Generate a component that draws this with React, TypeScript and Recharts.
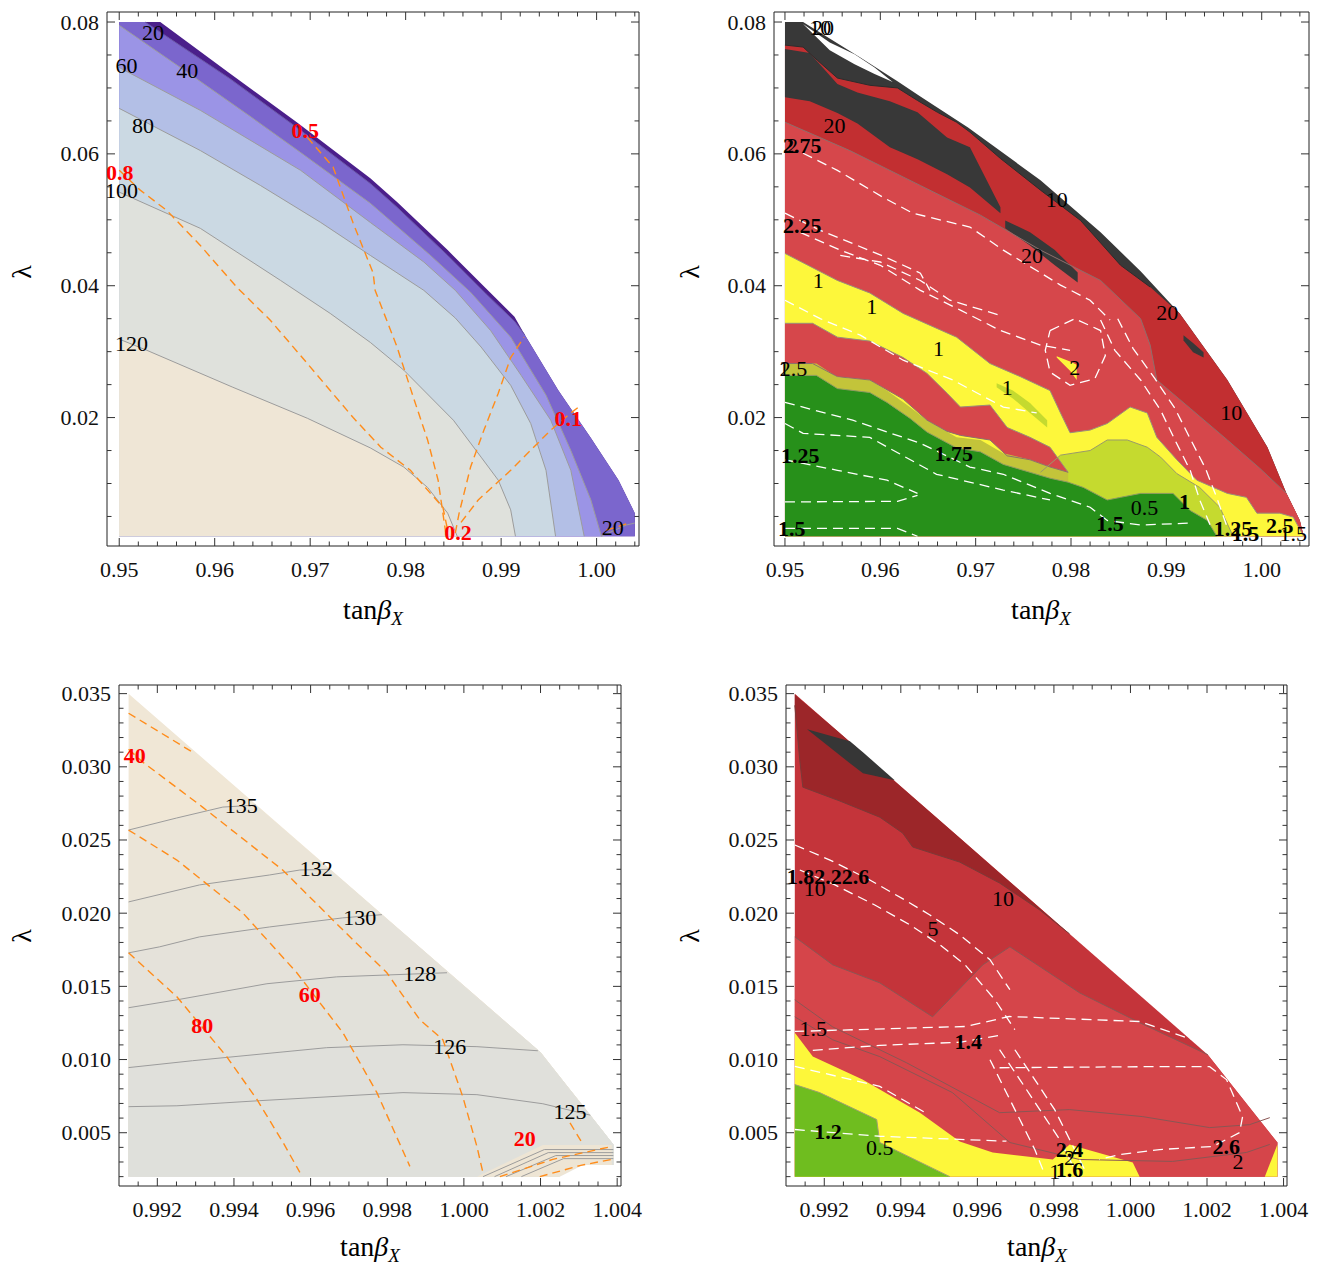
import React from "react";
import { ComposedChart, Area, Line, Scatter, XAxis, YAxis } from "recharts";

type P = [number, number];
type Txt = { x: number; y: number; t: string };

const FONT = "'Liberation Serif', 'Times New Roman', serif";
const ORANGE = "#ff8c1a";
const GREY = "#9c9c9c";

// ---------- top left panel (tanβX 0.95–1.004, λ up to 0.08)
const tlEdge: P[] = [[0.95,0.08],[0.9543,0.08],[0.9616,0.0722],[0.9686,0.0648],[0.9763,0.0563],[0.9791,0.0527],[0.9844,0.0454],[0.9884,0.0396],[0.9914,0.0353],[0.9925,0.0325],[0.996,0.0241],[0.9994,0.0169],[1.0023,0.0105],[1.004,0.0055],[1.004,0.002]];
const tlC20: P[] = [[0.9527,0.08],[0.9616,0.0714],[0.9686,0.064],[0.9763,0.0555],[0.9791,0.0519],[0.9844,0.0446],[0.9884,0.0388],[0.9914,0.0346],[0.9925,0.0325]];
const tlC40: P[] = [[0.95,0.0795],[0.9571,0.0724],[0.9637,0.0657],[0.969,0.0602],[0.9763,0.0525],[0.9826,0.0446],[0.9868,0.039],[0.991,0.0322],[0.9947,0.0234],[0.9973,0.015],[0.9994,0.0075],[1.0005,0.002]];
const tlC60: P[] = [[0.95,0.0731],[0.9585,0.0666],[0.969,0.0575],[0.9763,0.0496],[0.9819,0.0436],[0.9852,0.0393],[0.9889,0.0332],[0.9921,0.0264],[0.9952,0.0196],[0.9973,0.012],[0.9987,0.002]];
const tlC80: P[] = [[0.95,0.0669],[0.9585,0.0605],[0.9648,0.0552],[0.9711,0.0496],[0.9763,0.0446],[0.9819,0.0393],[0.9852,0.0351],[0.9879,0.0307],[0.991,0.0249],[0.9931,0.0191],[0.9947,0.012],[0.9957,0.002]];
const tlC100: P[] = [[0.95,0.0542],[0.9585,0.0487],[0.9669,0.0408],[0.9721,0.0358],[0.9763,0.0314],[0.9798,0.0272],[0.985,0.0196],[0.9879,0.014],[0.9897,0.0105],[0.991,0.006],[0.9915,0.002]];
const tlC120: P[] = [[0.95,0.0319],[0.9529,0.0302],[0.9619,0.0246],[0.9697,0.0199],[0.9763,0.0154],[0.9798,0.0125],[0.9823,0.0094],[0.9844,0.0055],[0.9854,0.002]];
const tlO08: P[] = [[0.95,0.0575],[0.9522,0.0545],[0.955,0.0514],[0.9585,0.0461],[0.9623,0.0398],[0.9658,0.0348],[0.969,0.0294],[0.9721,0.0241],[0.9745,0.02],[0.9774,0.0155],[0.9805,0.012],[0.9826,0.0085],[0.9839,0.0064],[0.9844,0.0029]];
const tlO05: P[] = [[0.9697,0.0625],[0.9724,0.058],[0.9745,0.0495],[0.9766,0.0419],[0.9768,0.0393],[0.9791,0.0307],[0.9808,0.0231],[0.9823,0.0166],[0.9834,0.0105],[0.9839,0.0055],[0.9842,0.0025]];
const tlO02: P[] = [[0.9852,0.0025],[0.9856,0.0055],[0.9868,0.0125],[0.9882,0.0181],[0.9897,0.0237],[0.991,0.0291],[0.9924,0.0322]];
const tlO01: P[] = [[0.9858,0.0041],[0.9876,0.0075],[0.991,0.012],[0.9952,0.0181],[0.9973,0.0207],[0.9984,0.0219]];
const tlOCorner: P[] = [[1.001,0.0029],[1.0036,0.0041]];
const tlGCorner: P[] = [[1.0005,0.002],[1.0031,0.0037],[1.004,0.004]];
const tlBlack: Txt[] = [
  { x: 0.95355, y: 0.07848, t: "20" }, { x: 0.95076, y: 0.07343, t: "60" }, { x: 0.95712, y: 0.07267, t: "40" },
  { x: 0.9525, y: 0.06433, t: "80" }, { x: 0.95023, y: 0.05447, t: "100" }, { x: 0.95128, y: 0.03122, t: "120" },
  { x: 1.0017, y: 0.0034, t: "20" },
];
const tlRed: Txt[] = [
  { x: 0.95005, y: 0.05725, t: "0.8" }, { x: 0.96949, y: 0.06357, t: "0.5" },
  { x: 0.99704, y: 0.01985, t: "0.1" }, { x: 0.98548, y: 0.00255, t: "0.2" },
];

// ---------- top right panel
const trEdge: P[] = [[0.95,0.08],[0.9519,0.08],[0.9579,0.0746],[0.9618,0.071],[0.9642,0.0687],[0.9692,0.064],[0.9768,0.056],[0.9831,0.0481],[0.9873,0.0422],[0.9914,0.0358],[0.9964,0.0257],[1.0006,0.0155],[1.0026,0.0085],[1.004,0.0044],[1.0044,0.002]];
const trWedgeX = [0.9519, 0.9547, 0.9573, 0.9594, 0.9613];
const trWedgeLo = [0.0797, 0.0757, 0.0736, 0.0721, 0.0709];
const trWedgeHi = [0.0797, 0.0769, 0.0751, 0.0731, 0.0709];
const trB1: P[] = [[0.95,0.0765],[0.9519,0.0762],[0.9534,0.0742],[0.9555,0.0715],[0.9589,0.0704],[0.9618,0.07],[0.9639,0.0681],[0.966,0.0663],[0.968,0.0648],[0.9694,0.0633],[0.9726,0.0593],[0.9768,0.0545],[0.981,0.0499],[0.9852,0.0431],[0.9883,0.0398]];
const trD2X = [0.95, 0.9526, 0.9555, 0.9576, 0.961, 0.9639, 0.967, 0.9694, 0.9726];
const trD2Hi = [0.0759, 0.0753, 0.0706, 0.0693, 0.068, 0.0663, 0.0625, 0.061, 0.0519];
const trD2Lo = [0.0686, 0.068, 0.0662, 0.0646, 0.061, 0.0592, 0.0569, 0.0549, 0.051];
const trSliverAX = [0.9731, 0.9757, 0.9783, 0.9807];
const trSliverAHi = [0.0499, 0.0481, 0.0454, 0.042];
const trSliverALo = [0.0487, 0.0461, 0.0431, 0.0405];
const trSliverBX = [0.9918, 0.9928, 0.9939];
const trSliverBHi = [0.0325, 0.0313, 0.0299];
const trSliverBLo = [0.0317, 0.0299, 0.0291];
const trB4: P[] = [[0.95,0.0648],[0.9568,0.0605],[0.9642,0.0552],[0.9705,0.0507],[0.9768,0.0454],[0.9831,0.0408],[0.9873,0.035],[0.9883,0.031],[0.989,0.0257],[0.9925,0.0214],[0.9964,0.0166],[0.9998,0.0123],[1.0026,0.0085],[1.004,0.0044],[1.0044,0.002]];
const trB5: P[] = [[0.95,0.0449],[0.9555,0.0408],[0.9589,0.0389],[0.9624,0.0358],[0.968,0.0322],[0.9715,0.0282],[0.9747,0.0262],[0.9778,0.0241],[0.9789,0.0207],[0.9799,0.0177],[0.982,0.0181],[0.9838,0.0191],[0.9862,0.0216],[0.988,0.0207],[0.989,0.017],[0.9911,0.0136],[0.9932,0.0105],[0.9964,0.0085],[0.9984,0.0079],[0.9995,0.0055],[1.0019,0.0055],[1.0033,0.0049],[1.0044,0.002]];
const trTriX = [0.9785, 0.9799, 0.9806];
const trTriHi = [0.0293, 0.0285, 0.028];
const trTriLo = [0.0291, 0.0271, 0.0257];
const trL2X = [0.95, 0.9529, 0.9555, 0.9589, 0.9624, 0.9649, 0.967, 0.9684, 0.9715, 0.9733, 0.9757, 0.9778, 0.9797];
const trL2Hi = [0.0343, 0.0343, 0.0322, 0.0316, 0.0291, 0.0267, 0.0237, 0.0216, 0.0219, 0.0185, 0.017, 0.0155, 0.0117];
const trL2Lo = [0.0282, 0.0282, 0.0262, 0.0257, 0.0228, 0.0196, 0.0179, 0.0173, 0.0166, 0.0142, 0.0136, 0.0125, 0.0117];
const trStripeX = [0.95, 0.9533, 0.9555, 0.9589, 0.9607, 0.9631, 0.9649, 0.968, 0.9705, 0.9729, 0.9757, 0.9778, 0.9797];
const trStripeHi = [0.0282, 0.0282, 0.0261, 0.0257, 0.0241, 0.0216, 0.0196, 0.017, 0.0166, 0.0146, 0.0136, 0.0125, 0.0117];
const trStripeLo = [0.0264, 0.0264, 0.0244, 0.0238, 0.0223, 0.0199, 0.0178, 0.0154, 0.0148, 0.0129, 0.0117, 0.0108, 0.0102];
const trYG: P[] = [[0.9768,0.0117],[0.9789,0.0143],[0.9802,0.0146],[0.982,0.015],[0.9838,0.0166],[0.9859,0.0166],[0.988,0.0155],[0.9894,0.014],[0.9911,0.0115],[0.9935,0.0094],[0.9956,0.0064],[0.997,0.002]];
const trG: P[] = [[0.95,0.0264],[0.9533,0.0264],[0.9555,0.0244],[0.9589,0.0238],[0.9607,0.0223],[0.9631,0.0199],[0.9649,0.0178],[0.968,0.0154],[0.9705,0.0148],[0.9729,0.0129],[0.9757,0.0117],[0.9778,0.0108],[0.9797,0.0102],[0.9813,0.0094],[0.9838,0.0075],[0.9852,0.0079],[0.9873,0.0085],[0.9907,0.0085],[0.9925,0.0059],[0.9943,0.0044],[0.9953,0.002]];
const trSpotX = [0.9722, 0.9739, 0.9757, 0.9775];
const trSpotHi = [0.0252, 0.0241, 0.0222, 0.0196];
const trSpotLo = [0.0246, 0.0229, 0.0207, 0.0185];
const trWhite: P[][] = [
  [[0.9519,0.0601],[0.9555,0.0575],[0.9603,0.0534],[0.9634,0.051],[0.9694,0.0489],[0.9729,0.0454],[0.9764,0.0423],[0.9789,0.0401],[0.982,0.0378],[0.9841,0.0348]],
  [[0.95,0.051],[0.9537,0.0484],[0.9571,0.0464],[0.9606,0.0443],[0.9642,0.0419],[0.9652,0.0393]],
  [[0.9516,0.0481],[0.9558,0.0454],[0.96,0.0431],[0.9642,0.0393],[0.9684,0.0363],[0.9726,0.0332],[0.9768,0.031],[0.9799,0.0302]],
  [[0.9778,0.0332],[0.9804,0.035],[0.9831,0.0332],[0.9836,0.0294],[0.9825,0.0259],[0.9799,0.0249],[0.9778,0.0269],[0.9773,0.0302],[0.9778,0.0332]],
  [[0.9831,0.0348],[0.9846,0.0302],[0.9873,0.0257],[0.9894,0.0211],[0.9909,0.0166],[0.9925,0.012],[0.9935,0.0075],[0.9946,0.0037]],
  [[0.9849,0.035],[0.9865,0.0305],[0.9888,0.0259],[0.9909,0.0214],[0.9925,0.0168],[0.9941,0.0123],[0.9953,0.0078],[0.9963,0.0037]],
  [[0.95,0.0378],[0.9537,0.035],[0.9579,0.0325],[0.9624,0.0287],[0.9676,0.0257],[0.9729,0.0216],[0.9764,0.0207]],
  [[0.95,0.0223],[0.9571,0.0196],[0.9642,0.0161],[0.9694,0.0125],[0.9729,0.0114],[0.9778,0.0085],[0.982,0.0064],[0.9838,0.0044],[0.9873,0.0037],[0.9925,0.004]],
  [[0.95,0.0191],[0.9519,0.0176],[0.9589,0.017],[0.9659,0.0114],[0.9729,0.009],[0.9778,0.0075]],
  [[0.95,0.0136],[0.9555,0.012],[0.9607,0.0105],[0.9639,0.0085]],
  [[0.95,0.0072],[0.9618,0.0073],[0.9639,0.0082]],
  [[0.95,0.0032],[0.9618,0.0032],[0.9639,0.002]],
  [[0.9558,0.0446],[0.96,0.0436],[0.9642,0.0408],[0.9673,0.0378],[0.9726,0.0355]],
];
const trBlack: Txt[] = [
  { x: 0.9537, y: 0.0792, t: "10" }, { x: 0.954, y: 0.0792, t: "20" }, { x: 0.9508, y: 0.0613, t: "2" },
  { x: 0.9552, y: 0.0643, t: "20" }, { x: 0.9785, y: 0.0531, t: "10" }, { x: 0.9759, y: 0.0446, t: "20" },
  { x: 0.9535, y: 0.0408, t: "1" }, { x: 0.9591, y: 0.0368, t: "1" }, { x: 0.9661, y: 0.0305, t: "1" },
  { x: 0.9499, y: 0.0274, t: "1" }, { x: 0.9509, y: 0.0274, t: "2.5" }, { x: 0.9733, y: 0.0245, t: "1" },
  { x: 0.9901, y: 0.0359, t: "20" }, { x: 0.9804, y: 0.0276, t: "2" }, { x: 0.9968, y: 0.0208, t: "10" },
  { x: 0.9877, y: 0.0064, t: "0.5" }, { x: 1.0033, y: 0.0024, t: "1.5" },
];
const trBold: Txt[] = [
  { x: 0.9518, y: 0.0613, t: "2.75" }, { x: 0.9518, y: 0.0492, t: "2.25" }, { x: 0.9516, y: 0.0143, t: "1.25" },
  { x: 0.9677, y: 0.0145, t: "1.75" }, { x: 0.9507, y: 0.0032, t: "1.5" }, { x: 0.9841, y: 0.004, t: "1.5" },
  { x: 0.9919, y: 0.0073, t: "1" }, { x: 0.997, y: 0.0032, t: "1.25" }, { x: 0.9983, y: 0.0024, t: "1.5" },
  { x: 1.0019, y: 0.0037, t: "2.5" },
];

// ---------- bottom left panel (zoom 0.991–1.004)
const blEdgeX = [0.99125, 1.002, 1.0025, 1.0031, 1.0039];
const blEdgeLo = [0.002, 0.002, 0.002, 0.0028, 0.0028];
const blEdgeHi = [0.035, 0.0105, 0.0088, 0.0069, 0.0042];
const blTail: P[] = [[1.002,0.0105],[1.0039,0.0042],[1.0039,0.002]];
const blTailLow: P[] = [[1.0039,0.0042],[1.0039,0.002]];
const blC135: P[] = [[0.99125,0.02568],[0.9925,0.0265],[0.99371,0.02725],[0.99457,0.02738]];
const blC132: P[] = [[0.99125,0.02077],[0.9931,0.02193],[0.99493,0.02261],[0.99572,0.02295],[0.9965,0.023]];
const blC130: P[] = [[0.99125,0.01729],[0.99206,0.0177],[0.9931,0.01838],[0.99493,0.01906],[0.99684,0.01968],[0.99786,0.0199]];
const blC128: P[] = [[0.99125,0.01354],[0.99251,0.01408],[0.99486,0.01518],[0.99668,0.01565],[0.99956,0.01593]];
const blC126: P[] = [[0.99125,0.00945],[0.99292,0.00992],[0.99642,0.01081],[0.99841,0.01101],[1.00034,0.01088],[1.00193,0.0106]];
const blC125: P[] = [[0.99125,0.00678],[0.99251,0.00684],[0.99467,0.00719],[0.99841,0.00774],[1.00034,0.0076],[1.00206,0.00698],[1.0033,0.0062]];
const blPatchX = [1.00034, 1.00206, 1.0025, 1.0031, 1.00386];
const blPatchLo = [0.002, 0.002, 0.002, 0.0028, 0.0028];
const blPatchHi = [0.002, 0.00416, 0.00416, 0.00416, 0.00416];
const blCutX = [1.0025, 1.0031, 1.0041];
const blCutLo = [0.0018, 0.0018, 0.0018];
const blCutHi = [0.002, 0.0028, 0.0028];
const blPatchLines: P[][] = [
  [[1.0005,0.002],[1.0021,0.00385],[1.0039,0.00385]],
  [[1.0008,0.002],[1.0022,0.00364],[1.0039,0.00364]],
  [[1.0011,0.002],[1.0024,0.00344],[1.0039,0.00344]],
  [[1.0015,0.002],[1.0026,0.00323],[1.0039,0.00323]],
];
const blOrange: P[][] = [
  [[0.99125,0.03366],[0.99292,0.031]],
  [[0.99125,0.0312],[0.99162,0.03032],[0.99318,0.02725],[0.99527,0.02295],[0.99684,0.01886],[0.99799,0.01593],[0.99885,0.01272],[0.99945,0.01136],[0.99997,0.00747],[1.00034,0.00406],[1.00049,0.00235]],
  [[0.99125,0.02568],[0.99251,0.02363],[0.99423,0.02002],[0.99564,0.01593],[0.99684,0.01184],[0.99773,0.00774],[0.99859,0.0027]],
  [[0.99125,0.01729],[0.99251,0.01429],[0.99381,0.0102],[0.9946,0.00727],[0.99528,0.00434],[0.99572,0.00229]],
  [[1.00094,0.002],[1.00232,0.00318],[1.00386,0.00406]],
  [[1.00198,0.002],[1.00305,0.00277],[1.00386,0.00318]],
  [[1.00277,0.00567],[1.00311,0.0042]],
];
const blBlack: Txt[] = [
  { x: 0.99419, y: 0.02738, t: "135" }, { x: 0.99615, y: 0.02307, t: "132" }, { x: 0.99728, y: 0.01972, t: "130" },
  { x: 0.99885, y: 0.0159, t: "128" }, { x: 0.99963, y: 0.0109, t: "126" }, { x: 1.00277, y: 0.00647, t: "125" },
];
const blRed: Txt[] = [
  { x: 0.99141, y: 0.03079, t: "40" }, { x: 0.99598, y: 0.01442, t: "60" },
  { x: 0.99317, y: 0.01233, t: "80" }, { x: 1.00159, y: 0.00458, t: "20" },
];

// ---------- bottom right panel
const brEdge: P[] = [[0.99123,0.035],[1.00202,0.01033],[1.00384,0.00433],[1.00384,0.002]];
const brDarkX = [0.99123, 0.99136, 0.99144, 0.99241, 0.99345, 0.99405, 0.99431, 0.99554, 0.99658, 0.99763, 0.99841];
const brDarkHi = [0.03495, 0.03463, 0.03447, 0.03229, 0.02991, 0.02854, 0.02793, 0.02513, 0.02274, 0.02036, 0.01858];
const brDarkLo = [0.0342, 0.03045, 0.02861, 0.02766, 0.02656, 0.02547, 0.02452, 0.02349, 0.02206, 0.02022, 0.01858];
const brGreyX = [0.99155, 0.99267, 0.99301, 0.99384];
const brGreyHi = [0.03256, 0.03174, 0.03099, 0.02909];
const brGreyLo = [0.03256, 0.03025, 0.02956, 0.02909];
const brBc: P[] = [[0.99123,0.01838],[0.99222,0.01647],[0.99345,0.01524],[0.99483,0.01292],[0.99614,0.01647],[0.99685,0.0177],[0.99867,0.01456],[1.00024,0.01252],[1.00202,0.01033],[1.00384,0.00433],[1.00384,0.002]];
const brLr1: P[] = [[0.99123,0.01408],[0.99222,0.01223],[0.99415,0.00978],[0.99658,0.00637],[0.99841,0.00658],[1.00032,0.0061],[1.00207,0.00535],[1.00311,0.00555],[1.00364,0.00603]];
const brLr2: P[] = [[0.99123,0.01292],[0.99222,0.01135],[0.99345,0.0102],[0.99535,0.00774],[0.99685,0.00433],[0.99867,0.00317],[1.0011,0.00304],[1.00303,0.00365],[1.00364,0.0042]];
const brYellow: P[] = [[0.99123,0.01183],[0.9917,0.0102],[0.993,0.00863],[0.9945,0.00637],[0.99554,0.0044],[0.9964,0.00365],[0.99797,0.00317],[0.99841,0.0042],[0.99886,0.00385],[1.00006,0.00297],[1.00024,0.002]];
const brTriX = [1.00351, 1.00384];
const brTriLo = [0.002, 0.002];
const brTriHi = [0.002, 0.0042];
const brGreen: P[] = [[0.99123,0.00829],[0.99188,0.00774],[0.99337,0.0059],[0.99345,0.00433],[0.99528,0.002]];
const brWhite: P[][] = [
  [[0.99123,0.01192],[0.9957,0.01226],[0.99683,0.01294],[1.00024,0.0126],[1.00163,0.01135]],
  [[0.9917,0.01063],[0.99345,0.01097],[0.99554,0.01118],[0.99658,0.01165]],
  [[0.99658,0.00944],[1.00024,0.00951],[1.00207,0.00951],[1.00251,0.00863],[1.00293,0.0061],[1.00285,0.00501],[1.00215,0.00406],[1.00076,0.00385],[0.99972,0.00351],[0.99919,0.00317]],
  [[0.99123,0.00953],[0.99345,0.00817],[0.99466,0.00634]],
  [[0.99123,0.00522],[0.99345,0.00476],[0.99676,0.00442]],
  [[0.99123,0.02466],[0.99215,0.02363],[0.99319,0.02227],[0.9941,0.02091],[0.99476,0.01988],[0.99554,0.01852],[0.99633,0.01682],[0.99685,0.01477]],
  [[0.99136,0.02295],[0.99228,0.02193],[0.99332,0.02056],[0.99424,0.0192],[0.99502,0.01784],[0.99568,0.01647],[0.99646,0.01408],[0.99698,0.01204]],
  [[0.99658,0.01067],[0.99711,0.00863],[0.99763,0.00658],[0.99815,0.00454],[0.99854,0.00249]],
  [[0.99698,0.01067],[0.9975,0.00863],[0.99802,0.00658],[0.99841,0.00454],[0.9988,0.00249]],
  [[0.99633,0.00999],[0.99672,0.00794],[0.99711,0.0059],[0.9975,0.00385],[0.99776,0.00215]],
];
const brBold: Txt[] = [
  { x: 0.9921, y: 0.02249, t: "1.82.22.6" }, { x: 0.99576, y: 0.01124, t: "1.4" }, { x: 0.9921, y: 0.0051, t: "1.2" },
  { x: 0.99841, y: 0.00385, t: "2.4" }, { x: 0.99841, y: 0.00249, t: "1.6" }, { x: 1.0025, y: 0.00408, t: "2.6" },
];
const brBlack: Txt[] = [
  { x: 0.99175, y: 0.0217, t: "10" }, { x: 0.99667, y: 0.02102, t: "10" }, { x: 0.99484, y: 0.01897, t: "5" },
  { x: 0.99171, y: 0.01215, t: "1.5" }, { x: 0.99345, y: 0.00397, t: "0.5" }, { x: 0.99841, y: 0.00329, t: "2" },
  { x: 0.99802, y: 0.00237, t: "1" }, { x: 1.00281, y: 0.00305, t: "2" },
];

// ---------- ticks
const steps = (a: number, b: number, s: number): number[] => {
  const out: number[] = [];
  for (let i = 0; a + i * s <= b + 1e-9; i++) out.push(+(a + i * s).toFixed(6));
  return out;
};
const wideXMajor = [0.95, 0.96, 0.97, 0.98, 0.99, 1.0];
const wideYMajor = [0.02, 0.04, 0.06, 0.08];
const zoomXMajor = [0.992, 0.994, 0.996, 0.998, 1.0, 1.002, 1.004];
const zoomYMajor = [0.005, 0.01, 0.015, 0.02, 0.025, 0.03, 0.035];

type Row = { x: number; r: number[] };
const below = (pts: P[], base = 0.002): Row[] => pts.map(([x, y]) => ({ x, r: [base, y] }));
const between = (xs: number[], lo: number[], hi: number[]): Row[] => xs.map((x, i) => ({ x, r: [lo[i], hi[i]] }));
const asXY = (pts: P[]) => pts.map(([x, y]) => ({ x, y }));

type Band = { rows: Row[]; fill: string };
type Curve = { pts: P[]; stroke: string; width?: number; dash?: string };
type Words = { items: Txt[]; color: string; bold?: boolean };
type Spec = {
  left: number; top: number; width: number; height: number;
  margin: { top: number; right: number; bottom: number; left: number };
  xDomain: [number, number]; yDomain: [number, number];
  xMajor: number[]; xMinor: number[]; yMajor: number[]; yMinor: number[];
  xDigits: number; yDigits: number;
  bands: Band[]; curves: Curve[]; words: Words[];
};

function tickFor(side: string, majors: number[], digits: number) {
  const isMajor = (v: number) => majors.some((m) => Math.abs(m - v) < 1e-7);
  return (p: any) => {
    const v = Number(p.payload.value);
    const big = isMajor(v);
    const len = big ? 8 : 4.5;
    const x = p.x;
    const y = p.y;
    let line: React.ReactNode = null;
    let label: React.ReactNode = null;
    if (side === "bottom") {
      line = <line x1={x} x2={x} y1={y} y2={y - len} stroke="#333" />;
      if (big)
        label = (
          <text x={x} y={y + 31} textAnchor="middle" fontSize={22} fontFamily={FONT} fill="#111">
            {v.toFixed(digits)}
          </text>
        );
    } else if (side === "top") {
      line = <line x1={x} x2={x} y1={y} y2={y + len} stroke="#333" />;
    } else if (side === "left") {
      line = <line x1={x} x2={x + len} y1={y} y2={y} stroke="#333" />;
      if (big)
        label = (
          <text x={x - 8} y={y} textAnchor="end" dominantBaseline="central" fontSize={22} fontFamily={FONT} fill="#111">
            {v.toFixed(digits)}
          </text>
        );
    } else {
      line = <line x1={x} x2={x - len} y1={y} y2={y} stroke="#333" />;
    }
    return (
      <g>
        {line}
        {label}
      </g>
    );
  };
}

const uniq = (a: number[]) => Array.from(new Set(a.map((v) => +v.toFixed(6)))).sort((p, q) => p - q);

function Panel({ s }: { s: Spec }) {
  const xt = uniq([...s.xMajor, ...s.xMinor]).filter((v) => v >= s.xDomain[0] && v <= s.xDomain[1]);
  const yt = uniq([...s.yMajor, ...s.yMinor]).filter((v) => v >= s.yDomain[0] && v <= s.yDomain[1]);
  const common = {
    type: "number" as const,
    allowDataOverflow: true,
    interval: 0 as const,
    tickSize: 0,
    tickMargin: 0,
    tickLine: false,
    axisLine: { stroke: "#222" },
  };
  // axes take 1px each, so the margins are 1px smaller than the frame offsets
  const m = { top: s.margin.top - 1, right: s.margin.right - 1, bottom: s.margin.bottom - 1, left: s.margin.left - 1 };
  return (
    <div style={{ position: "absolute", left: s.left, top: s.top }}>
      <ComposedChart width={s.width} height={s.height} margin={m}>
        <XAxis {...common} dataKey="x" domain={s.xDomain} ticks={xt} height={1} tick={tickFor("bottom", s.xMajor, s.xDigits)} />
        <XAxis {...common} xAxisId="top" orientation="top" dataKey="x" domain={s.xDomain} ticks={xt} height={1} tick={tickFor("top", s.xMajor, 0)} />
        <YAxis {...common} dataKey="y" domain={s.yDomain} ticks={yt} width={1} tick={tickFor("left", s.yMajor, s.yDigits)} />
        <YAxis {...common} yAxisId="right" orientation="right" dataKey="y" domain={s.yDomain} ticks={yt} width={1} tick={tickFor("right", s.yMajor, 0)} />
        {s.bands.map((b, i) => (
          <Area
            key={"band" + i}
            data={b.rows}
            dataKey="r"
            type="linear"
            fill={b.fill}
            fillOpacity={1}
            stroke="none"
            dot={false}
            activeDot={false}
            isAnimationActive={false}
          />
        ))}
        {s.curves.map((c, i) => (
          <Line
            key={"curve" + i}
            data={asXY(c.pts)}
            dataKey="y"
            type="linear"
            stroke={c.stroke}
            strokeWidth={c.width ?? 1}
            strokeDasharray={c.dash}
            dot={false}
            activeDot={false}
            isAnimationActive={false}
          />
        ))}
        {s.words.map((w, i) => (
          <Scatter
            key={"words" + i}
            data={w.items}
            isAnimationActive={false}
            shape={(p: any) => (
              <text
                x={p.cx}
                y={p.cy}
                textAnchor="middle"
                dominantBaseline="central"
                fontSize={22}
                fontFamily={FONT}
                fontWeight={w.bold ? "bold" : "normal"}
                fill={w.color}
              >
                {p.payload.t}
              </text>
            )}
          />
        ))}
      </ComposedChart>
    </div>
  );
}

const orange = (pts: P[]): Curve => ({ pts, stroke: ORANGE, width: 1.4, dash: "8 5" });
const grey = (pts: P[], stroke = GREY): Curve => ({ pts, stroke, width: 1 });
const white = (pts: P[]): Curve => ({ pts, stroke: "#ffffff", width: 1.3, dash: "10 6" });

const topLeft: Spec = {
  left: 0, top: 0, width: 650, height: 630,
  margin: { top: 12, right: 11, bottom: 84, left: 107 },
  xDomain: [0.94872, 1.00444], yDomain: [0.00052, 0.08152],
  xMajor: wideXMajor, xMinor: steps(0.948, 1.004, 0.002), yMajor: wideYMajor, yMinor: steps(0.005, 0.08, 0.005),
  xDigits: 2, yDigits: 2,
  bands: [
    { rows: below(tlEdge), fill: "#4b1f8b" },
    { rows: below([[0.95, 0.08], ...tlC20, ...tlEdge.slice(10)]), fill: "#7b66cd" },
    { rows: below(tlC40), fill: "#9b94e6" },
    { rows: below(tlC60), fill: "#b3bfe6" },
    { rows: below(tlC80), fill: "#cbd9e3" },
    { rows: below(tlC100), fill: "#dfe1dc" },
    { rows: below(tlC120), fill: "#efe6d6" },
  ],
  curves: [
    grey(tlC20, "#6c5aa8"), grey(tlC40), grey(tlC60), grey(tlC80), grey(tlC100), grey(tlC120), grey(tlGCorner),
    orange(tlO08), orange(tlO05), orange(tlO02), orange(tlO01), orange(tlOCorner),
  ],
  words: [
    { items: tlBlack, color: "#000" },
    { items: tlRed, color: "#ff0000", bold: true },
  ],
};

const topRight: Spec = {
  left: 666, top: 0, width: 657, height: 630,
  margin: { top: 12, right: 14, bottom: 84, left: 108 },
  xDomain: [0.94885, 1.00496], yDomain: [0.00052, 0.08152],
  xMajor: wideXMajor, xMinor: steps(0.95, 1.004, 0.002), yMajor: wideYMajor, yMinor: steps(0.005, 0.08, 0.005),
  xDigits: 2, yDigits: 2,
  bands: [
    { rows: below(trEdge), fill: "#383838" },
    { rows: between(trWedgeX, trWedgeLo, trWedgeHi), fill: "#ffffff" },
    { rows: below([...trB1, ...trEdge.slice(9)]), fill: "#c22f31" },
    { rows: between(trD2X, trD2Lo, trD2Hi), fill: "#383838" },
    { rows: below(trB4), fill: "#d6474b" },
    { rows: between(trSliverAX, trSliverALo, trSliverAHi), fill: "#383838" },
    { rows: between(trSliverBX, trSliverBLo, trSliverBHi), fill: "#383838" },
    { rows: between(trTriX, trTriLo, trTriHi), fill: "#fdf73b" },
    { rows: below(trB5), fill: "#fdf73b" },
    { rows: between(trSpotX, trSpotLo, trSpotHi), fill: "#c5da2f" },
    { rows: below(trYG), fill: "#c5da2f" },
    { rows: between(trL2X, trL2Lo, trL2Hi), fill: "#d6474b" },
    { rows: between(trStripeX, trStripeLo, trStripeHi), fill: "#c3c43a" },
    { rows: below(trG), fill: "#27901a" },
  ],
  curves: [
    grey(trB1, "#2c2c2c"),
    grey(trB4.slice(0, 13), "#8e6f6c"),
    grey(trB5, "#9a8f78"),
    grey(trL2X.map((x, i) => [x, trL2Hi[i]] as P), "#9a8f78"),
    grey(trL2X.map((x, i) => [x, trL2Lo[i]] as P), "#8e6f6c"),
    grey(trG, "#8f9a62"),
    grey(trYG, "#9a9a6a"),
    ...trWhite.map(white),
  ],
  words: [
    { items: trBlack, color: "#000" },
    { items: trBold, color: "#000", bold: true },
  ],
};

const bottomLeft: Spec = {
  left: 0, top: 640, width: 650, height: 627,
  margin: { top: 45, right: 29, bottom: 81, left: 119 },
  xDomain: [0.991, 1.0041], yDomain: [0.00136, 0.03559],
  xMajor: zoomXMajor, xMinor: steps(0.9915, 1.004, 0.0005), yMajor: zoomYMajor, yMinor: steps(0.002, 0.035, 0.001),
  xDigits: 3, yDigits: 3,
  bands: [
    { rows: between(blEdgeX, blEdgeLo, blEdgeHi), fill: "#f0e7d6" },
    { rows: below([...blC135, ...blTail]), fill: "#ebe5d8" },
    { rows: below([...blC132, ...blTail]), fill: "#e8e4d9" },
    { rows: below([...blC130, ...blTail]), fill: "#e5e2da" },
    { rows: below([...blC128, ...blTail]), fill: "#e2e1da" },
    { rows: below([...blC126, ...blTailLow]), fill: "#e0e0db" },
    { rows: below([...blC125, ...blTailLow]), fill: "#dfe0db" },
    { rows: between(blPatchX, blPatchLo, blPatchHi), fill: "#eee5d4" },
    { rows: between(blCutX, blCutLo, blCutHi), fill: "#ffffff" },
  ],
  curves: [
    grey(blC135), grey(blC132), grey(blC130), grey(blC128), grey(blC126), grey(blC125),
    ...blPatchLines.map((p) => grey(p)),
    ...blOrange.map(orange),
  ],
  words: [
    { items: blBlack, color: "#000" },
    { items: blRed, color: "#ff0000", bold: true },
  ],
};

const bottomRight: Spec = {
  left: 666, top: 640, width: 657, height: 627,
  margin: { top: 45, right: 36, bottom: 81, left: 120 },
  xDomain: [0.991, 1.00409], yDomain: [0.00136, 0.03559],
  xMajor: zoomXMajor, xMinor: steps(0.9915, 1.004, 0.0005), yMajor: zoomYMajor, yMinor: steps(0.002, 0.035, 0.001),
  xDigits: 3, yDigits: 3,
  bands: [
    { rows: below(brEdge), fill: "#c4343a" },
    { rows: between(brDarkX, brDarkLo, brDarkHi), fill: "#9c2629" },
    { rows: between(brGreyX, brGreyLo, brGreyHi), fill: "#363636" },
    { rows: below(brBc), fill: "#d5454a" },
    { rows: below(brYellow), fill: "#fdf73a" },
    { rows: between(brTriX, brTriLo, brTriHi), fill: "#fdf73a" },
    { rows: below(brGreen), fill: "#6fbd1f" },
  ],
  curves: [
    grey(brDarkX.map((x, i) => [x, brDarkLo[i]] as P), "#7a3a38"),
    grey(brBc.slice(0, 9), "#8a5654"),
    grey(brLr1, "#8a5654"),
    grey(brLr2, "#8a5654"),
    grey(brGreen, "#a0a070"),
    ...brWhite.map(white),
  ],
  words: [
    { items: brBlack, color: "#000" },
    { items: brBold, color: "#000", bold: true },
  ],
};

const titleStyle: React.CSSProperties = {
  position: "absolute",
  width: 200,
  height: 30,
  textAlign: "center",
  fontFamily: FONT,
  fontSize: 28,
  lineHeight: "30px",
  color: "#000",
  whiteSpace: "nowrap",
};

function XTitle({ cx, cy }: { cx: number; cy: number }) {
  return (
    <div style={{ ...titleStyle, left: cx - 100, top: cy - 15 }}>
      tan<i>β</i>
      <span style={{ fontStyle: "italic", fontSize: 19, position: "relative", top: 6 }}>X</span>
    </div>
  );
}

function YTitle({ cx, cy }: { cx: number; cy: number }) {
  return (
    <div style={{ ...titleStyle, width: 40, left: cx - 20, top: cy - 15, transform: "rotate(-90deg)" }}>λ</div>
  );
}

export default function App() {
  return (
    <div style={{ position: "absolute", left: 0, top: 0, width: 1323, height: 1267, background: "#fff", overflow: "hidden" }}>
      <Panel s={topLeft} />
      <Panel s={topRight} />
      <Panel s={bottomLeft} />
      <Panel s={bottomRight} />
      <XTitle cx={373} cy={610} />
      <XTitle cx={1041} cy={610} />
      <XTitle cx={370} cy={1247} />
      <XTitle cx={1037} cy={1247} />
      <YTitle cx={22} cy={272} />
      <YTitle cx={690} cy={272} />
      <YTitle cx={22} cy={936} />
      <YTitle cx={690} cy={936} />
    </div>
  );
}
